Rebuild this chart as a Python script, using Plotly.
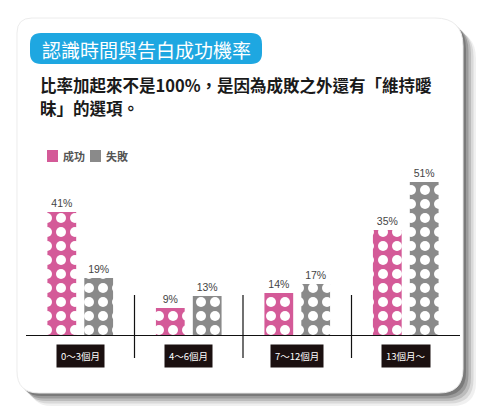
import plotly.graph_objects as go

categories = ["0〜3個月", "4〜6個月", "7〜12個月", "13個月〜"]
success = [41, 9, 14, 35]
failure = [19, 13, 17, 51]
series_names = ["成功", "失敗"]

title_text = "認識時間與告白成功機率"
subtitle_lines = ["比率加起來不是100%，是因為成敗之外還有「維持曖", "昧」的選項。"]

PINK = "#d45a98"
GRAY = "#8a8a8a"
BLUE = "#1ea7e1"
CJK = "Noto Sans CJK TC"

W, H = 490, 420
OFF = 8  # page body margin: the figure is drawn 8px right/down in the window
L, R, T, B = 26 - OFF, 30 + OFF, 155 - OFF, 85 + OFF


def px_x(px):
    # px is a position in the 490x420 window
    return (px - OFF - L) / (W - L - R)


def px_y(py):
    return (H - B - (py - OFF)) / (H - T - B)


def rounded_path(x0, y0, x1, y1, radii):
    # radii: top-left, top-right, bottom-right, bottom-left (pixels, y down)
    tl, tr, br, bl = radii
    pts = [
        ("M", [(x0 + tl, y0)]),
        ("L", [(x1 - tr, y0)]),
        ("Q", [(x1, y0), (x1, y0 + tr)]),
        ("L", [(x1, y1 - br)]),
        ("Q", [(x1, y1), (x1 - br, y1)]),
        ("L", [(x0 + bl, y1)]),
        ("Q", [(x0, y1), (x0, y1 - bl)]),
        ("L", [(x0, y0 + tl)]),
        ("Q", [(x0, y0), (x0 + tl, y0)]),
    ]
    out = ""
    for cmd, coords in pts:
        out += cmd + " " + " ".join(f"{px_x(a):.5f},{px_y(b):.5f}" for a, b in coords) + " "
    return out + "Z"


fig = go.Figure()

for name, vals, col in [(series_names[0], success, PINK), (series_names[1], failure, GRAY)]:
    fig.add_trace(go.Bar(
        x=categories,
        y=vals,
        name=name,
        marker=dict(
            color=col,
            line=dict(width=0),
            pattern=dict(shape=".", fgcolor="white", bgcolor=col, fgopacity=1,
                         size=14, solidity=0.4, fillmode="overlay"),
        ),
        texttemplate="%{y}%",
        textposition="outside",
        textfont=dict(size=10.5, color="#444444", family="Liberation Sans Narrow, Arial"),
        cliponaxis=False,
        showlegend=False,
    ))

shapes = []
# card shadow
for i, op in enumerate([0.28, 0.22, 0.16, 0.11, 0.07]):
    d = 3 + i * 2.5
    shapes.append(dict(type="path", xref="paper", yref="paper", layer="below",
                       path=rounded_path(17 + d, 18 + d, 463 + d, 393 + d, (15, 28, 24, 22)),
                       fillcolor=f"rgba(40,40,40,{op})", line=dict(width=0)))
# card
shapes.append(dict(type="path", xref="paper", yref="paper", layer="below",
                   path=rounded_path(17, 18, 463, 393, (15, 28, 24, 22)),
                   fillcolor="white", line=dict(color="#ececec", width=1)))
# title pill
shapes.append(dict(type="path", xref="paper", yref="paper", layer="below",
                   path=rounded_path(30, 33, 262, 64, (11, 11, 11, 11)),
                   fillcolor=BLUE, line=dict(width=0)))
# legend swatches
for x0, col in [(47, PINK), (90, GRAY)]:
    shapes.append(dict(type="rect", xref="paper", yref="paper",
                       x0=px_x(x0), x1=px_x(x0 + 11), y0=px_y(150), y1=px_y(162),
                       fillcolor=col, line=dict(width=0)))
# group separators
for xs in [0.5, 1.5, 2.5]:
    shapes.append(dict(type="line", xref="x", yref="paper", x0=xs, x1=xs,
                       y0=px_y(295), y1=px_y(358), line=dict(color="#111111", width=1.2)))

annotations = [
    dict(text=title_text, xref="paper", yref="paper", x=px_x(146), y=px_y(49),
         xanchor="center", yanchor="middle", showarrow=False,
         font=dict(size=19, color="white", family=CJK)),
    dict(text=subtitle_lines[0], xref="paper", yref="paper", x=px_x(38), y=px_y(85),
         xanchor="left", yanchor="middle", showarrow=False,
         font=dict(size=16.5, color="#1a1a1a", family=CJK, weight="bold")),
    dict(text=subtitle_lines[1], xref="paper", yref="paper", x=px_x(38), y=px_y(108),
         xanchor="left", yanchor="middle", showarrow=False,
         font=dict(size=16.5, color="#1a1a1a", family=CJK, weight="bold")),
    dict(text=series_names[0], xref="paper", yref="paper", x=px_x(61), y=px_y(156),
         xanchor="left", yanchor="middle", showarrow=False,
         font=dict(size=11, color="#555555", family=CJK, weight="bold")),
    dict(text=series_names[1], xref="paper", yref="paper", x=px_x(104), y=px_y(156),
         xanchor="left", yanchor="middle", showarrow=False,
         font=dict(size=11, color="#555555", family=CJK, weight="bold")),
]
for c in categories:
    annotations.append(dict(
        text=c, x=c, xref="x", yref="paper", y=px_y(356),
        xanchor="center", yanchor="middle", showarrow=False,
        bgcolor="#1b1010", borderpad=4,
        font=dict(size=9.5, color="white", family="Liberation Sans Narrow, " + CJK),
    ))

fig.update_layout(
    width=W, height=H,
    margin=dict(l=L, r=R, t=T, b=B),
    paper_bgcolor="white",
    plot_bgcolor="rgba(0,0,0,0)",
    barmode="group",
    bargap=0.32,
    bargroupgap=0.22,
    shapes=shapes,
    annotations=annotations,
    xaxis=dict(showticklabels=False, ticks="", showgrid=False, zeroline=False,
               showline=True, linecolor="#111111", linewidth=1.3, range=[-0.5, 3.5]),
    yaxis=dict(visible=False, range=[0, 60], showgrid=False, zeroline=False),
)

fig.write_html("out.html")
